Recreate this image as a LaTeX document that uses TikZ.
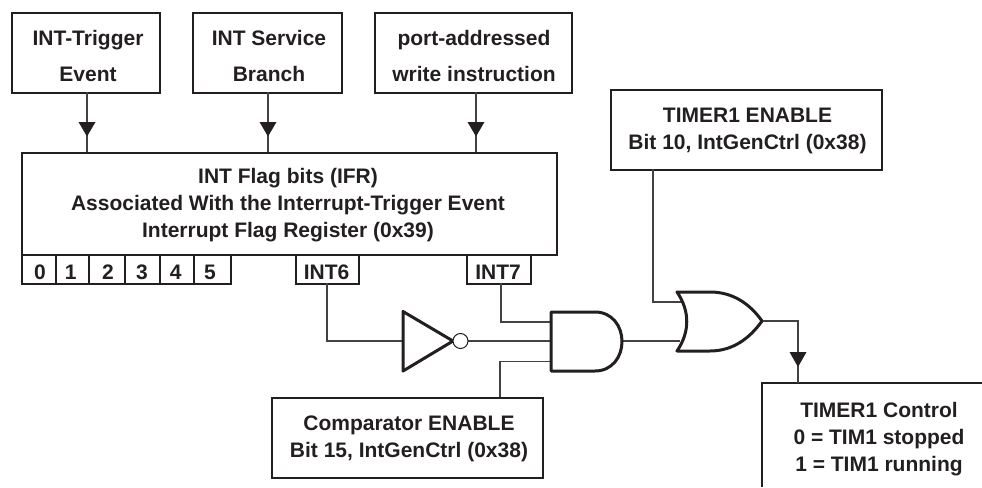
\documentclass[tikz,border=0pt]{standalone}
\usepackage{fontspec}
\setmainfont{Liberation Sans}
\usetikzlibrary{calc}
\definecolor{ink}{HTML}{231F20}
\tikzset{
  x=1pt,y=-1pt,
  frame/.style={draw=ink,line width=2pt,rectangle,inner sep=0pt,anchor=north west},
  lbl/.style={inner sep=0pt,align=center,text=ink,font=\fontsize{21}{27}\selectfont\bfseries},
  toplbl/.style={lbl,font=\fontsize{21}{36}\selectfont\bfseries},
  wire/.style={draw=ink!85,line width=1.1pt},
  gate/.style={draw=ink,line width=3pt,line join=round,fill=white},
  tri/.style={fill=ink,draw=none},
}
\newcommand{\boxat}[5]{\node[frame,minimum width=#3pt-#1pt,minimum height=#4pt-#2pt] (#5) at (#1,#2) {};}
\begin{document}
\begin{tikzpicture}
\useasboundingbox (0,0) rectangle (982,487);
\boxat{11}{12}{159}{92}{ev}
\boxat{192}{12}{341}{92}{sb}
\boxat{374}{12}{571}{92}{pw}
\boxat{21}{152}{556}{254}{ifr}
\boxat{21}{254}{54.5}{283}{b0}
\boxat{54.5}{254}{88}{283}{b1}
\boxat{88}{254}{124}{283}{b2}
\boxat{124}{254}{159}{283}{b3}
\boxat{159}{254}{193}{283}{b4}
\boxat{193}{254}{230}{283}{b5}
\boxat{295}{254}{358}{283}{i6}
\boxat{466}{254}{530}{283}{i7}
\boxat{610}{89}{881}{169}{te}
\boxat{271}{397}{542}{477}{ce}
\draw[draw=ink,line width=2pt] (762,487) -- (762,383) -- (982,383);
\node[toplbl] (evt) at (88,56) {INT-Trigger\\Event};
\node[toplbl] (sbt) at (269,56) {INT Service\\Branch};
\node[toplbl] (pwt) at (474,56) {port-addressed\\write instruction};
\node[lbl] (ifrt) at (288,205.5) {INT Flag bits (IFR)\\Associated With the Interrupt-Trigger Event\\Interrupt Flag Register (0x39)};
\foreach \n/\t/\xx in {d0/0/40,d1/1/70.6,d2/2/108,d3/3/142,d4/4/175.6,d5/5/210,d6/INT6/326.5,d7/INT7/498}{
  \node[lbl,anchor=base] (\n) at (\xx,279) {\t};
}
\node[lbl] (tet) at (747.5,130.5) {TIMER1 ENABLE\\Bit 10, IntGenCtrl (0x38)};
\node[lbl] (cet) at (409,438.5) {Comparator ENABLE\\Bit 15, IntGenCtrl (0x38)};
\node[lbl] (tct) at (879,439) {TIMER1 Control\\0 = TIM1 stopped\\1 = TIM1 running};
% top arrows
\foreach \xx in {87,268,476}{
  \draw[wire] (\xx,92) -- (\xx,152);
  \fill[tri] (\xx-8.5,122) -- (\xx+8.5,122) -- (\xx,136.5) -- cycle;
}
% wires
\draw[wire] (327,283) -- (327,341) -- (403,341);
\draw[wire] (468,341) -- (551,341);
\draw[wire] (501,283) -- (501,322) -- (551,322);
\draw[wire] (500,397) -- (500,361.5) -- (551,361.5);
\draw[wire] (622,341) -- (680,341);
\draw[wire] (653,169) -- (653,302) -- (682,302);
\draw[wire] (762,321) -- (798,321) -- (798,383);
\fill[tri] (789.5,352) -- (806.5,352) -- (798,367) -- cycle;
% inverter
\draw[gate] (403,311.5) -- (403,371) -- (453,341) -- cycle;
\node[circle,draw=ink,line width=1pt,fill=white,minimum size=15pt,inner sep=0pt] (bub) at (460.5,341) {};
% and
\draw[gate] (551,312) -- (595,312) .. controls (612,312) and (622,326) .. (622,341.5) .. controls (622,357) and (612,371) .. (595,371) -- (551,371) -- cycle;
% or
\draw[gate] (677,292) -- (710,292) .. controls (733,292) and (750,304) .. (762,321) .. controls (750,338) and (733,351) .. (710,351) -- (677,351) .. controls (690,332) and (690,311) .. (677,292) -- cycle;
\end{tikzpicture}
\end{document}
